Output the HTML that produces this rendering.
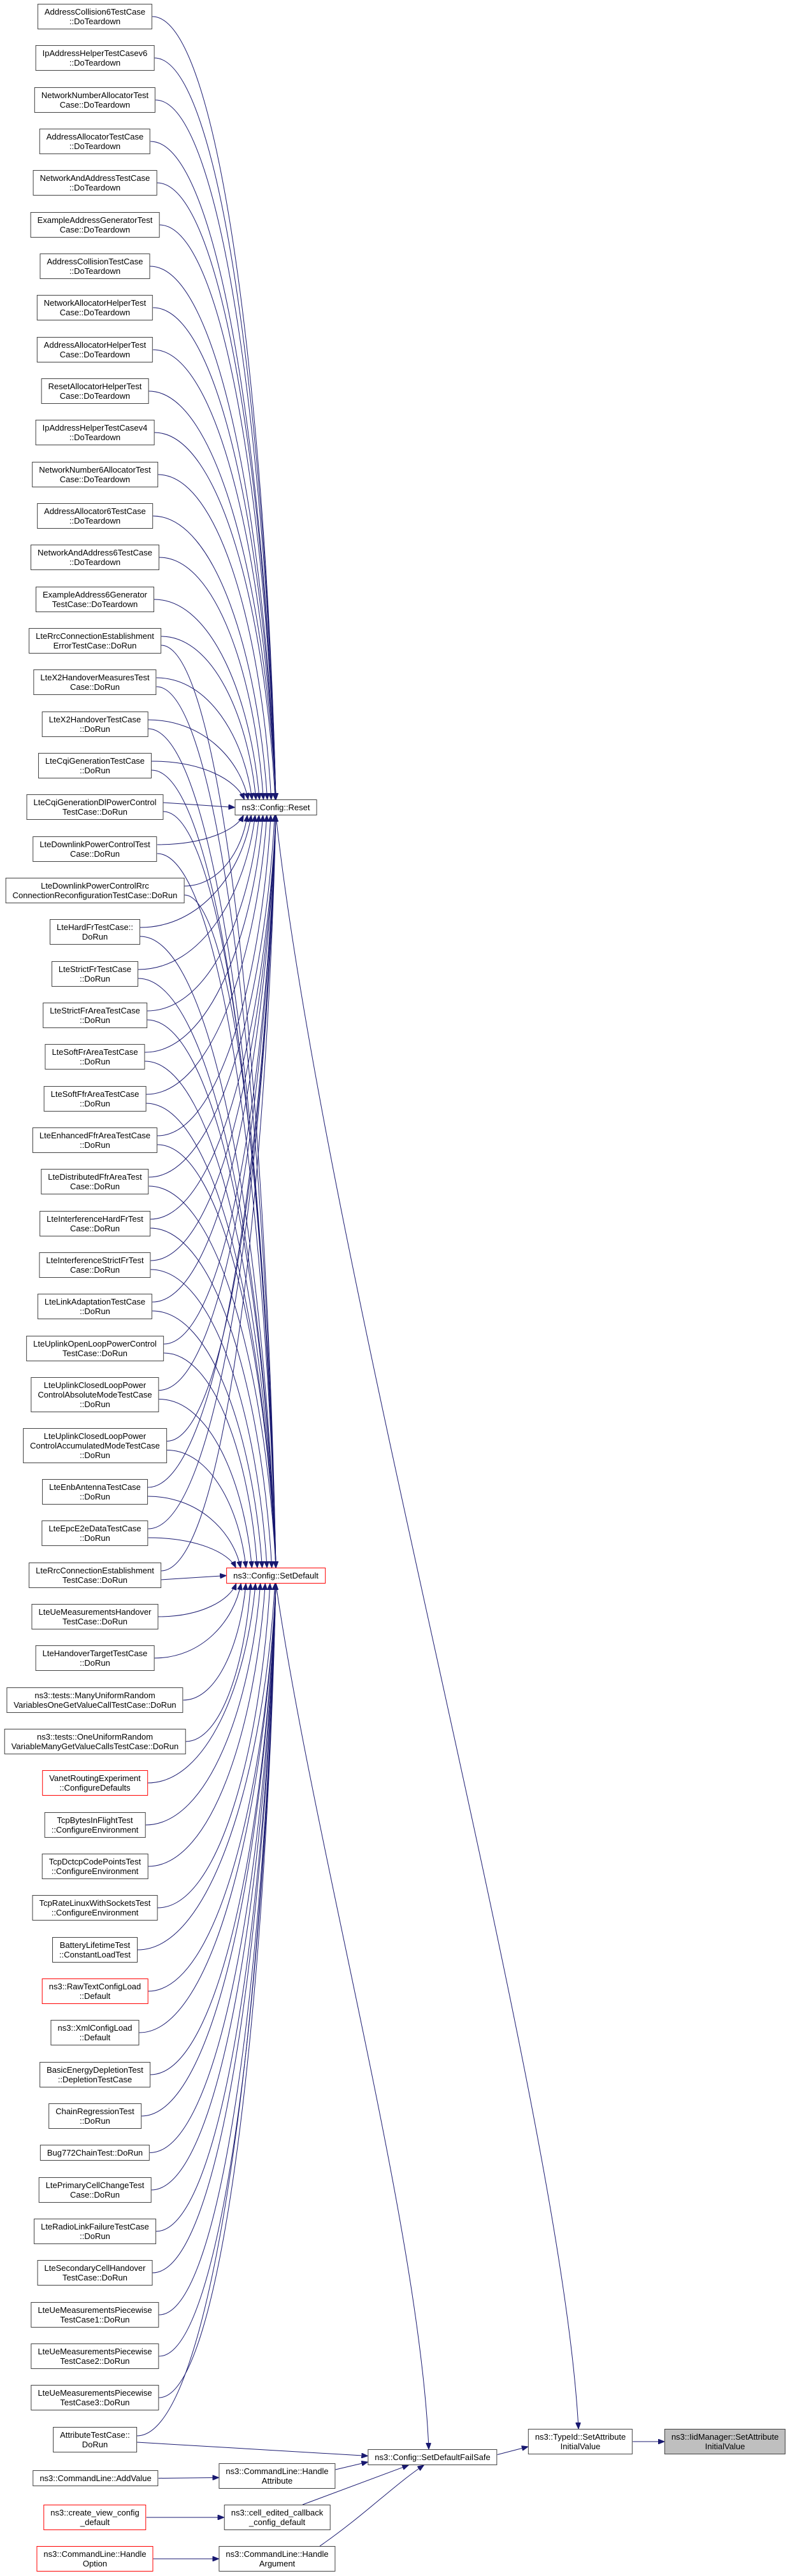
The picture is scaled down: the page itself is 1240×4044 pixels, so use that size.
<!DOCTYPE html>
<html><head><meta charset="utf-8">
<style>
html,body{margin:0;padding:0;background:#fff;}
body{width:1240px;height:4044px;position:relative;overflow:hidden;font-family:"Liberation Sans",Arial,sans-serif;}
.n{position:absolute;transform:translateX(-50%);background:#fff;border:1px solid #404040;padding:4px 10px;font-size:13px;line-height:15px;text-align:center;white-space:nowrap;color:#000;box-sizing:border-box;z-index:2}
.r{border-color:#ff0000}
.g{background:#bfbfbf}
svg{position:absolute;left:0;top:0;z-index:1}
</style></head><body>
<svg id="s" width="1240" height="4044" viewBox="0 0 1240 4044">
<defs><marker id="a" markerWidth="11" markerHeight="8" refX="10" refY="4" orient="auto" markerUnits="userSpaceOnUse"><path d="M0,0 L10,4 L0,8 z" fill="#191970" stroke="#191970"/></marker></defs>
<g id="eg" fill="none" stroke="#191970" stroke-width="1"></g>
</svg>
<div id="c"></div>
<script>
var L=[
["AddressCollision6TestCase","::DoTeardown"],
["IpAddressHelperTestCasev6","::DoTeardown"],
["NetworkNumberAllocatorTest","Case::DoTeardown"],
["AddressAllocatorTestCase","::DoTeardown"],
["NetworkAndAddressTestCase","::DoTeardown"],
["ExampleAddressGeneratorTest","Case::DoTeardown"],
["AddressCollisionTestCase","::DoTeardown"],
["NetworkAllocatorHelperTest","Case::DoTeardown"],
["AddressAllocatorHelperTest","Case::DoTeardown"],
["ResetAllocatorHelperTest","Case::DoTeardown"],
["IpAddressHelperTestCasev4","::DoTeardown"],
["NetworkNumber6AllocatorTest","Case::DoTeardown"],
["AddressAllocator6TestCase","::DoTeardown"],
["NetworkAndAddress6TestCase","::DoTeardown"],
["ExampleAddress6Generator","TestCase::DoTeardown"],
["LteRrcConnectionEstablishment","ErrorTestCase::DoRun"],
["LteX2HandoverMeasuresTest","Case::DoRun"],
["LteX2HandoverTestCase","::DoRun"],
["LteCqiGenerationTestCase","::DoRun"],
["LteCqiGenerationDlPowerControl","TestCase::DoRun"],
["LteDownlinkPowerControlTest","Case::DoRun"],
["LteDownlinkPowerControlRrc","ConnectionReconfigurationTestCase::DoRun"],
["LteHardFrTestCase::","DoRun"],
["LteStrictFrTestCase","::DoRun"],
["LteStrictFrAreaTestCase","::DoRun"],
["LteSoftFrAreaTestCase","::DoRun"],
["LteSoftFfrAreaTestCase","::DoRun"],
["LteEnhancedFfrAreaTestCase","::DoRun"],
["LteDistributedFfrAreaTest","Case::DoRun"],
["LteInterferenceHardFrTest","Case::DoRun"],
["LteInterferenceStrictFrTest","Case::DoRun"],
["LteLinkAdaptationTestCase","::DoRun"],
["LteUplinkOpenLoopPowerControl","TestCase::DoRun"],
["LteUplinkClosedLoopPower","ControlAbsoluteModeTestCase","::DoRun"],
["LteUplinkClosedLoopPower","ControlAccumulatedModeTestCase","::DoRun"],
["LteEnbAntennaTestCase","::DoRun"],
["LteEpcE2eDataTestCase","::DoRun"],
["LteRrcConnectionEstablishment","TestCase::DoRun"],
["LteUeMeasurementsHandover","TestCase::DoRun"],
["LteHandoverTargetTestCase","::DoRun"],
["ns3::tests::ManyUniformRandom","VariablesOneGetValueCallTestCase::DoRun"],
["ns3::tests::OneUniformRandom","VariableManyGetValueCallsTestCase::DoRun"],
["VanetRoutingExperiment","::ConfigureDefaults"],
["TcpBytesInFlightTest","::ConfigureEnvironment"],
["TcpDctcpCodePointsTest","::ConfigureEnvironment"],
["TcpRateLinuxWithSocketsTest","::ConfigureEnvironment"],
["BatteryLifetimeTest","::ConstantLoadTest"],
["ns3::RawTextConfigLoad","::Default"],
["ns3::XmlConfigLoad","::Default"],
["BasicEnergyDepletionTest","::DepletionTestCase"],
["ChainRegressionTest","::DoRun"],
["Bug772ChainTest::DoRun"],
["LtePrimaryCellChangeTest","Case::DoRun"],
["LteRadioLinkFailureTestCase","::DoRun"],
["LteSecondaryCellHandover","TestCase::DoRun"],
["LteUeMeasurementsPiecewise","TestCase1::DoRun"],
["LteUeMeasurementsPiecewise","TestCase2::DoRun"],
["LteUeMeasurementsPiecewise","TestCase3::DoRun"],
["AttributeTestCase::","DoRun"]
];
var red={42:1,47:1};
var c=document.getElementById('c');
function mk(lines,cx,top,cls){var d=document.createElement('div');d.className='n '+(cls||'');d.style.left=cx+'px';d.style.top=top+'px';d.innerHTML=lines.join('<br>');c.appendChild(d);return d;}
var el=[],y=6;
for(var i=0;i<L.length;i++){
  el.push(mk(L[i],149,Math.round(y),red[i]?'r':''));
  var h=L[i].length;
  y+=65.33+(h-2)*14.67;
}
var R=mk(["ns3::Config::Reset"],433,1255,'');
var S=mk(["ns3::Config::SetDefault"],433,2461,'r');
var F=mk(["ns3::Config::SetDefaultFailSafe"],679,3845,'');
var T=mk(["ns3::TypeId::SetAttribute","InitialValue"],911,3813,'');
var I=mk(["ns3::IidManager::SetAttribute","InitialValue"],1138,3813,'g');
var AV=mk(["ns3::CommandLine::AddValue"],150,3878,'');
var HA=mk(["ns3::CommandLine::Handle","Attribute"],435,3867,'');
var CV=mk(["ns3::create_view_config","_default"],149,3932,'r');
var CE=mk(["ns3::cell_edited_callback","_config_default"],435,3932,'');
var HO=mk(["ns3::CommandLine::Handle","Option"],149,3997,'r');
var HG=mk(["ns3::CommandLine::Handle","Argument"],435,3997,'');
var g=document.getElementById('eg');
function P(d){var p=document.createElementNS('http://www.w3.org/2000/svg','path');p.setAttribute('d',d);p.setAttribute('marker-end','url(#a)');g.appendChild(p);}
function rc(e){var b=e.getBoundingClientRect();return {l:b.left,t:b.top,r:b.right,b:b.bottom,cx:(b.left+b.right)/2,cy:(b.top+b.bottom)/2};}
function edge(src,tgt,off){
  var s=rc(src),t=rc(tgt);
  var sx=s.r,sy=s.cy+off;
  var dy=sy-t.cy;
  if(Math.abs(dy)<22){P('M'+sx+','+sy+' L'+t.l+','+t.cy);return;}
  var f=Math.min(1,Math.abs(dy)/600);
  var ex=t.l+8+(t.cx-t.l-8)*f;
  var ey=dy<0?t.t:t.b;
  var c1x=sx+(ex-sx)*0.55,c1y=sy;
  var c2x=ex-(ex-sx)*0.08,c2y=sy+(ey-sy)*0.5;
  P('M'+sx+','+sy+' C'+c1x+','+c1y+' '+c2x+','+c2y+' '+ex+','+ey);
}
for(var i=0;i<L.length;i++){
  var n=i+1;
  if(n<=15) edge(el[i],R,0);
  else if(n<=38){edge(el[i],R,-7);edge(el[i],S,7);}
  else edge(el[i],S,n==59?-6:0);
}
var f=rc(F),tt=rc(T),ii=rc(I),r=rc(R),s=rc(S),at=rc(el[58]);
P('M'+at.r+','+(at.cy+4)+' L'+f.l+','+(f.cy-2));
P('M'+r.cx+','+r.b+' C'+(r.cx+80)+',2000 '+(tt.cx-30)+',3300 '+(tt.cx-3)+','+tt.t);
P('M'+s.cx+','+s.b+' C'+(s.cx+60)+',2900 '+(f.cx-20)+',3500 '+(f.cx-6)+','+f.t);
P('M'+f.r+','+(f.cy-4)+' L'+tt.l+','+(tt.cy+8));
P('M'+tt.r+','+tt.cy+' L'+ii.l+','+ii.cy);
var av=rc(AV),ha=rc(HA),cv=rc(CV),ce=rc(CE),ho=rc(HO),hg=rc(HG);
P('M'+av.r+','+av.cy+' L'+ha.l+','+(av.cy-1));
P('M'+ha.r+','+(ha.t+10)+' L'+f.l+','+(f.b-5));
P('M'+cv.r+','+cv.cy+' L'+ce.l+','+cv.cy);
P('M'+(ce.cx+40)+','+ce.t+' L'+(f.l+64)+','+f.b);
P('M'+ho.r+','+ho.cy+' L'+hg.l+','+ho.cy);
P('M'+(hg.cx+67)+','+hg.t+' C570,3950 620,3900 '+(f.l+88)+','+f.b);
</script>
</body></html>
